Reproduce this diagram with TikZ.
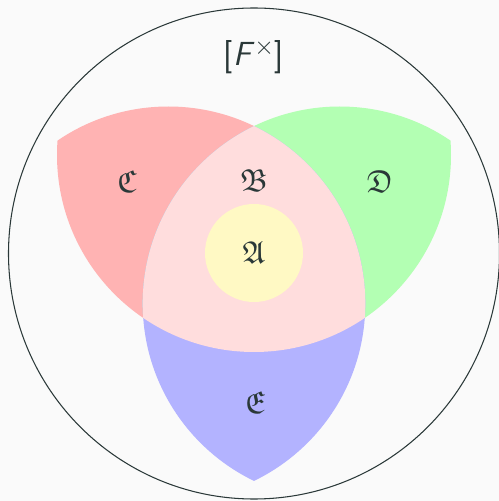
\documentclass[tikz,border=0pt]{standalone}
\usepackage{amssymb}
\usepackage{tikz}
\definecolor{bgGray}{RGB}{250,250,250}
\definecolor{inkGray}{RGB}{42,56,56}
\definecolor{petalRed}{RGB}{255,179,179}
\definecolor{petalGreen}{RGB}{179,255,179}
\definecolor{petalBlue}{RGB}{179,179,255}
\definecolor{corePink}{RGB}{255,221,221}
\definecolor{coreYellow}{RGB}{255,249,196}
\tikzset{lbl/.style={text=inkGray,inner sep=0pt}}

\begin{document}
\begin{tikzpicture}[x=0.02cm,y=0.02cm,font=\fontsize{18}{20}\selectfont]
\fill[bgGray] (0,0) rectangle (499,501);
\useasboundingbox (0,0) rectangle (499,501);
\coordinate (cA) at (254,346);
\coordinate (cB) at (339.7,197.5);
\coordinate (cC) at (168.3,197.5);
% pairwise overlaps
\begin{scope}\clip (cA) circle (197); \fill[petalRed] (cC) circle (197);\end{scope}
\begin{scope}\clip (cA) circle (197); \fill[petalGreen] (cB) circle (197);\end{scope}
\begin{scope}\clip (cB) circle (197); \fill[petalBlue] (cC) circle (197);\end{scope}
% triple overlap
\begin{scope}\clip (cA) circle (197); \clip (cB) circle (197); \fill[corePink] (cC) circle (197);\end{scope}
\fill[coreYellow] (254,248) circle (49);
\draw[inkGray,line width=0.6pt] (254,247.5) circle (245.5);
\node[lbl] (frakA) at (254,248) {$\mathfrak{A}$};
\node[lbl] (frakB) at (254,320) {$\mathfrak{B}$};
\node[lbl] (frakC) at (127,319) {$\mathfrak{C}$};
\node[lbl] (frakD) at (380,319) {$\mathfrak{D}$};
\node[lbl] (frakE) at (255,98) {$\mathfrak{E}$};
\node[lbl,font=\fontsize{19}{22}\sffamily] (title) at (254,444) {[\textit{F}$^{\times}$]};
\end{tikzpicture}
\end{document}
